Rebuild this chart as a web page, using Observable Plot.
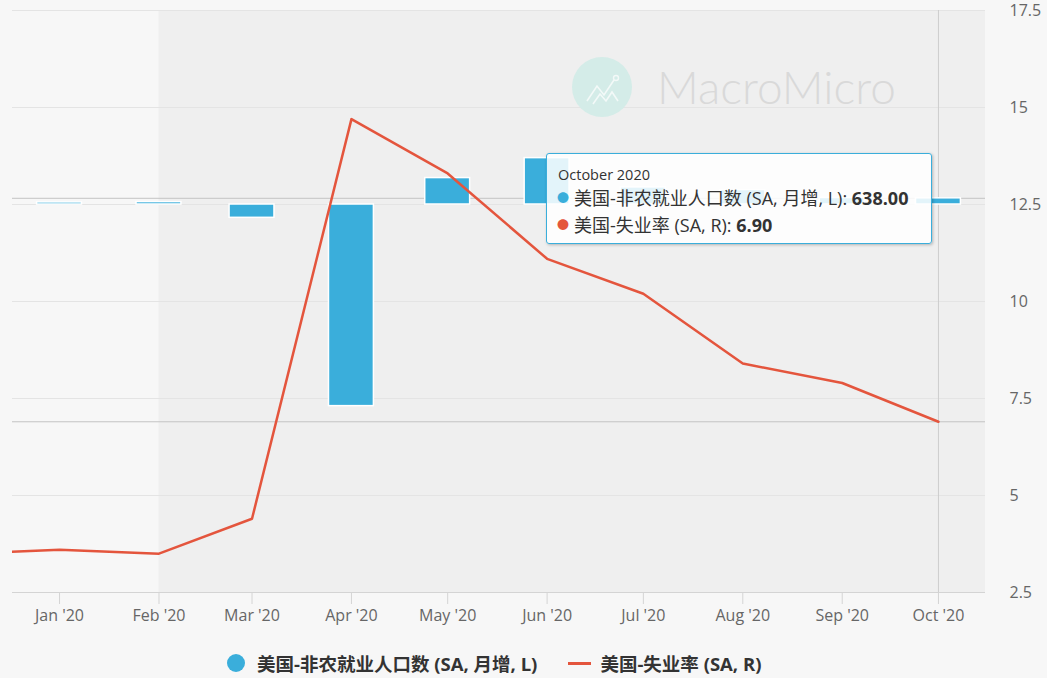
<!DOCTYPE html>
<html><head><meta charset="utf-8">
<script src="https://cdn.jsdelivr.net/npm/d3@7"></script>
<script src="https://cdn.jsdelivr.net/npm/@observablehq/plot@0.6"></script>
<style>
body{margin:0;background:#f7f7f7;font-family:"Open Sans","Noto Sans CJK SC",sans-serif;}
#wrap{position:relative;width:1047px;height:678px;overflow:hidden;background:#f7f7f7}
#chart svg{display:block}
#legend{position:absolute;left:227px;top:650px;height:26px;display:flex;align-items:center;font-size:18.5px;font-weight:bold;color:#333;white-space:nowrap}
#legend .dot{display:inline-block;width:18px;height:18px;border-radius:50%;background:#3aaedb;margin-right:12px}
#legend .ln{display:inline-block;width:23px;height:3px;background:#e4553d;margin-left:31px;margin-right:9px}
#tooltip{position:absolute;left:546px;top:153px;width:386px;height:91px;box-sizing:border-box;border:1px solid #3aaedb;border-radius:3px;background:rgba(255,255,255,0.86);box-shadow:1px 1px 3px rgba(0,0,0,0.25);color:#333;white-space:nowrap}
#tooltip .hd{position:absolute;left:11px;top:11px;font-size:14.5px;line-height:normal}
#tooltip .row{position:absolute;left:10px;font-size:18px;line-height:normal}
#tooltip .row b{font-weight:bold}
#tooltip .bul{font-size:12px;margin-right:5px;vertical-align:2px}
#wm{position:absolute;left:0;top:0;pointer-events:none}
</style></head><body>
<div id="wrap">
<div id="chart"></div>
<svg id="wm" width="1047" height="200">
  <circle cx="602" cy="87" r="30" fill="#d4ece8"/>
  <polyline points="587,101 597,86 604,95 614,80" fill="none" stroke="#f3f9f8" stroke-width="1.6"/>
  <polyline points="593,104 600,94 606,101 612,92 618,101" fill="none" stroke="#f3f9f8" stroke-width="1.6"/>
  <circle cx="616" cy="78" r="2.5" fill="none" stroke="#f3f9f8" stroke-width="1.4"/>
  <text x="657" y="104" font-family="Lato, 'Open Sans', sans-serif" font-weight="300" font-size="46" fill="#d9d9d9">MacroMicro</text>
</svg>
<div id="tooltip">
  <div class="hd">October 2020</div>
  <div class="row" style="top:30px"><span class="bul" style="color:#3aaedb">●</span>美国-非农就业人口数 (SA, 月增, L): <b>638.00</b></div>
  <div class="row" style="top:57px"><span class="bul" style="color:#e4553d">●</span>美国-失业率 (SA, R): <b>6.90</b></div>
</div>
<div id="legend"><span class="dot"></span>美国-非农就业人口数 (SA, 月增, L)<span class="ln"></span>美国-失业率 (SA, R)</div>
</div>
<script>
// Monthly observations
const months = ["2019-12-01","2020-01-01","2020-02-01","2020-03-01","2020-04-01","2020-05-01","2020-06-01","2020-07-01","2020-08-01","2020-09-01","2020-10-01"];
// Nonfarm payrolls, monthly change (thousands, left axis)
const nfpChange = [184, 214, 251, -1373, -20787, 2725, 4781, 1761, 1493, 672, 638];
// Unemployment rate (%, right axis)
const unemployment = [3.5, 3.6, 3.5, 4.4, 14.7, 13.3, 11.1, 10.2, 8.4, 7.9, 6.9];
// Right axis ticks
const rightTicks = [2.5, 5, 7.5, 10, 12.5, 15, 17.5];
const rightTickLabels = ["2.5", "5", "7.5", "10", "12.5", "15", "17.5"];
// Left (hidden) axis range, aligned with the right axis
const leftDomain = [-40000, 20000];
// Shaded period and x range
const shadeStart = "2020-02-01";
const xRange = ["2019-12-17T08:00:00Z", "2020-10-15T16:00:00Z"];
// Hovered point
const hoverDate = "2020-10-01";
const hoverNfp = 638;
const hoverUr = 6.9;

const parse = d3.utcParse("%Y-%m-%d");
const data = months.map((m, i) => ({date: parse(m), nfp: nfpChange[i], ur: unemployment[i]}));
const rightDomain = [rightTicks[0], rightTicks[rightTicks.length - 1]];
const toRight = d3.scaleLinear().domain(leftDomain).range(rightDomain);
const xDomain = xRange.map(s => new Date(s));
const tickDates = months.slice(1).map(parse);

const chart = Plot.plot({
  width: 1047, height: 640,
  marginLeft: 12, marginRight: 62, marginTop: 10, marginBottom: 48,
  style: {background: "transparent", fontFamily: '"Open Sans","Noto Sans CJK SC",sans-serif', fontSize: "16px", color: "#666"},
  x: {type: "utc", domain: xDomain, label: null},
  y: {domain: rightDomain, label: null},
  marks: [
    Plot.rect([{start: parse(shadeStart), end: xDomain[1]}], {x1: "start", x2: "end", y1: rightDomain[0], y2: rightDomain[1], fill: "#efefef"}),
    Plot.ruleY(rightTicks, {stroke: "#e4e4e4"}),
    Plot.ruleY([toRight(hoverNfp), hoverUr], {stroke: "#c4c4c4"}),
    Plot.ruleX([parse(hoverDate)], {stroke: "#cdcdcd"}),
    Plot.rect(data, {
      x1: d => d3.utcDay.offset(d.date, -7),
      x2: d => d3.utcDay.offset(d.date, 7),
      y1: d => toRight(0),
      y2: d => toRight(d.nfp),
      fill: "#3aaedb", stroke: "white", strokeWidth: 1.5, clip: true
    }),
    Plot.line(data, {x: "date", y: "ur", stroke: "#e4553d", strokeWidth: 2.5, clip: true}),
    Plot.ruleY([rightDomain[0]], {stroke: "#d4d4d4"}),
    Plot.axisX({ticks: tickDates, tickFormat: d3.utcFormat("%b '%y"), tickSize: 12, tickPadding: 5, stroke: "#d4d4d4", fill: "#666", label: null}),
    Plot.axisY({anchor: "right", ticks: rightTicks, tickFormat: (d, i) => rightTickLabels[rightTicks.indexOf(d)], tickSize: 0, tickPadding: 24, textAnchor: "start", fill: "#666", label: null})
  ]
});
document.getElementById("chart").appendChild(chart);
</script>
</body></html>
